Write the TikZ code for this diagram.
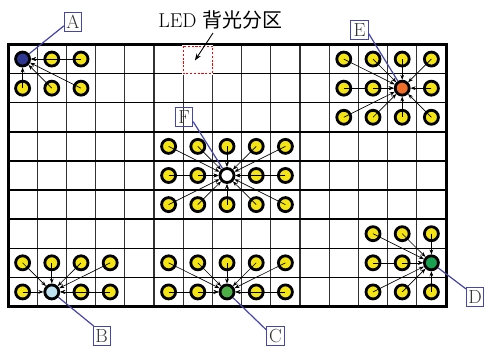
\documentclass[tikz,border=0pt]{standalone}
\usepackage{fontspec}
\newfontfamily\cjkfont{Noto Sans CJK SC}
\usetikzlibrary{arrows.meta}
\definecolor{ledyellow}{RGB}{245,228,20}
\definecolor{ledA}{RGB}{45,55,145}
\definecolor{ledB}{RGB}{190,225,242}
\definecolor{ledC}{RGB}{75,175,70}
\definecolor{ledD}{RGB}{25,160,80}
\definecolor{ledE}{RGB}{240,110,40}
\definecolor{labblue}{RGB}{70,70,170}
\definecolor{vline}{RGB}{50,50,50}
\tikzset{
  led/.style={circle, draw=black, line width=2.8pt, minimum size=14pt, inner sep=0pt},
  yled/.style={led, fill=ledyellow},
  arr/.style={line width=0.65pt, -{Stealth[length=5pt,width=3.8pt]}},
  labbox/.style={draw=labblue, line width=0.8pt, inner sep=1.5pt, minimum width=17.5pt, minimum height=19pt, font=\fontsize{19}{19}\selectfont, text=black!80},
  labline/.style={draw=labblue, line width=1.2pt},
}
\begin{document}
\begin{tikzpicture}[x=1pt,y=-1pt]
\useasboundingbox (0,0) rectangle (493,350);
\fill[white] (0,0) rectangle (493,350);
\begin{scope}[shift={(8,44.5)}, x=29.2pt, y=-29.11pt]
  % grid
  \foreach \c in {1,...,14} \draw[vline, line width=1.1pt] (\c,0) -- (\c,9);
  \foreach \r in {1,...,8} \draw[black, line width=1.4pt] (0,\r) -- (15,\r);
  \draw[black, line width=3pt] (0,0) rectangle (15,9);
  % backlight zone
  \draw[white, line width=1.8pt] (6,0.06) rectangle (7,1);
  \draw[red, dash pattern=on 2.2pt off 1.6pt, line width=1.3pt] (6,0.06) rectangle (7,1);
  % target LEDs
  \node[led, fill=ledA] (A) at (0.5,0.5) {};
  \node[led, fill=ledE] (E) at (13.5,1.5) {};
  \node[led, fill=white] (F) at (7.5,4.5) {};
  \node[led, fill=ledB] (B) at (1.5,8.5) {};
  \node[led, fill=ledC] (C) at (7.5,8.5) {};
  \node[led, fill=ledD] (D) at (14.5,7.5) {};
  % group A
  \foreach \c/\r in {1/0,2/0,0/1,1/1,2/1} {
    \node[yled] (a-\c-\r) at (\c+0.5,\r+0.5) {};
    \draw[arr] (a-\c-\r.center) -- (A);
  }
  % group E
  \foreach \c/\r in {11/0,12/0,13/0,14/0,11/1,12/1,14/1,11/2,12/2,13/2,14/2} {
    \node[yled] (e-\c-\r) at (\c+0.5,\r+0.5) {};
    \draw[arr] (e-\c-\r.center) -- (E);
  }
  % group F
  \foreach \c/\r in {5/3,6/3,7/3,8/3,9/3,5/4,6/4,8/4,9/4,5/5,6/5,7/5,8/5,9/5} {
    \node[yled] (f-\c-\r) at (\c+0.5,\r+0.5) {};
    \draw[arr] (f-\c-\r.center) -- (F);
  }
  % group B
  \foreach \c/\r in {0/7,1/7,2/7,3/7,0/8,2/8,3/8} {
    \node[yled] (b-\c-\r) at (\c+0.5,\r+0.5) {};
    \draw[arr] (b-\c-\r.center) -- (B);
  }
  % group C
  \foreach \c/\r in {5/7,6/7,7/7,8/7,9/7,5/8,6/8,8/8,9/8} {
    \node[yled] (g-\c-\r) at (\c+0.5,\r+0.5) {};
    \draw[arr] (g-\c-\r.center) -- (C);
  }
  % group D
  \foreach \c/\r in {12/6,13/6,14/6,12/7,13/7,12/8,13/8,14/8} {
    \node[yled] (d-\c-\r) at (\c+0.5,\r+0.5) {};
    \draw[arr] (d-\c-\r.center) -- (D);
  }
  \coordinate (zone) at (6.4,0.55);
\end{scope}
% title
\node[font=\fontsize{20}{20}\selectfont, inner sep=0pt] (title) at (220.5,19.5) {LED {\cjkfont 背光分区}};
\draw[line width=0.9pt, -{Stealth[length=7pt,width=5pt]}] (213,33) -- (zone);
% labels
\node[labbox] (labA) at (73,22) {A};
\node[labbox] (labE) at (359.5,29.7) {E};
\node[labbox] (labF) at (184,116.7) {F};
\node[labbox] (labB) at (101.7,335.8) {B};
\node[labbox] (labC) at (275.5,335.8) {C};
\node[labbox] (labD) at (475,296.7) {D};
\draw[labline] (A) -- ([yshift=6pt]labA.south west);
\draw[labline] (E) -- ([yshift=6pt]labE.south east);
\draw[labline] (F) -- ([yshift=5pt]labF.south east);
\draw[labline] (B) -- ([xshift=1pt]labB.north west);
\draw[labline] (C) -- ([yshift=-4pt]labC.north west);
\draw[labline] (D) -- ([yshift=-2pt]labD.north west);
\end{tikzpicture}
\end{document}
